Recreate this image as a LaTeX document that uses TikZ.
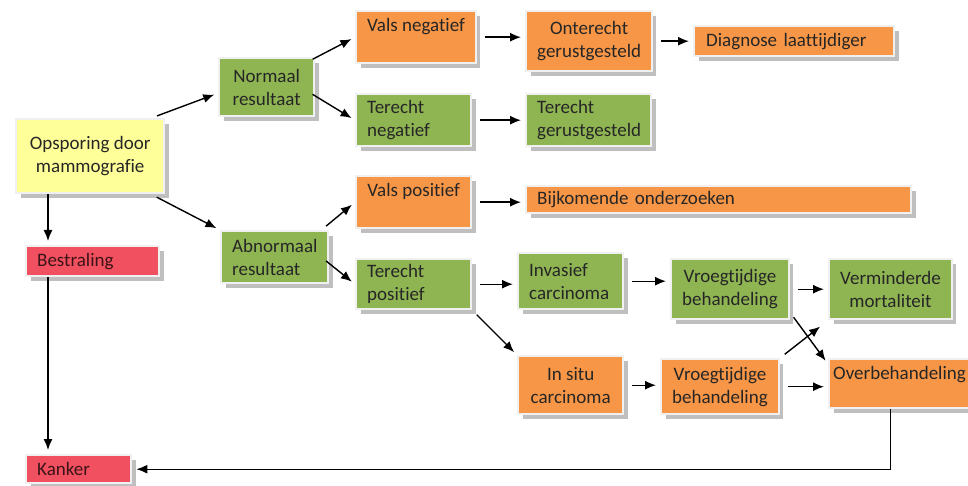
\documentclass[tikz,border=0pt]{standalone}
\usepackage{fontspec}
\setmainfont{Carlito}[Ligatures=CommonOff]
\usetikzlibrary{shadows,arrows.meta}
\definecolor{geel}{HTML}{FFFF99}
\definecolor{groen}{HTML}{8FB553}
\definecolor{oranje}{HTML}{F79646}
\definecolor{rood}{HTML}{F0505F}
\tikzset{
	blok/.style={rectangle, anchor=north west, draw=black!6, line width=1.2pt,
		inner xsep=5.5pt, inner ysep=2pt, font=\fontsize{9.5}{11.5}\selectfont,
		text=black!85,
		drop shadow={shadow xshift=2.2pt, shadow yshift=-2.2pt, fill=black!50, opacity=.5}},
	boven/.style={text height=8pt, text depth=#1},
	pijl/.style={-{Latex[length=5.5pt,width=4.5pt]}, line width=.7pt, shorten <=3pt, shorten >=2pt}
}
\begin{document}
\begin{tikzpicture}[x=0.5pt,y=-0.5pt]
	\useasboundingbox (0,0) rectangle (968,486);
	% linkerkolom
	\node[blok, fill=geel, minimum width=74pt, minimum height=37pt, align=center]
	(opsporing) at (15,118) {Opsporing door\\mammografie};
	\node[blok, fill=rood, text=rood!25!black, minimum width=66.5pt, minimum height=15pt,
	text width=55.5pt, align=left] (bestraling) at (25,245) {Bestraling};
	\node[blok, fill=rood, text=rood!25!black, minimum width=52.5pt, minimum height=14pt,
	text width=41.5pt, align=left] (kanker) at (25,454) {Kanker};
	% resultaten
	\node[blok, fill=groen, minimum width=47.5pt, minimum height=29pt, align=center]
	(normaal) at (218,57) {Normaal\\resultaat};
	\node[blok, fill=groen, minimum width=53.5pt, minimum height=26pt,
	text width=42.5pt, align=left] (abnormaal) at (220,230) {Abnormaal\\resultaat};
	\node[blok, fill=oranje, minimum width=57.5pt, boven=14pt]
	(valsneg) at (355,10) {Vals negatief};
	\node[blok, fill=groen, minimum width=57.5pt, minimum height=26pt,
	text width=46.5pt, align=left] (terechtneg) at (355,93) {Terecht\\negatief};
	\node[blok, fill=oranje, minimum width=57.5pt, boven=14pt]
	(valspos) at (355,175) {Vals positief};
	\node[blok, fill=groen, minimum width=57.5pt, minimum height=25pt,
	text width=46.5pt, align=left] (terechtpos) at (355,258) {Terecht\\positief};
	% gevolgen
	\node[blok, fill=oranje, minimum width=56.5pt, minimum height=30pt, align=center]
	(onterecht) at (525,10) {Onterecht\\gerustgesteld};
	\node[blok, fill=oranje, minimum width=100pt, minimum height=15pt,
	text width=88pt, inner xsep=6pt, align=left] (diagnose) at (693,25) {Diagnose laattijdiger};
	\node[blok, fill=groen, minimum width=62.5pt, minimum height=26pt,
	text width=51.5pt, align=left] (terechtger) at (525,93) {Terecht\\gerustgesteld};
	\node[blok, fill=oranje, minimum width=192.5pt, minimum height=13.5pt,
	text width=181.5pt, align=left] (bijkomend) at (525,185) {Bijkomende onderzoeken};
	\node[blok, fill=groen, minimum width=52.5pt, minimum height=28pt,
	text width=41.5pt, align=left] (invasief) at (517,252) {Invasief\\carcinoma};
	\node[blok, fill=oranje, minimum width=52.5pt, minimum height=29pt, align=center]
	(insitu) at (517,355) {In situ\\carcinoma};
	\node[blok, fill=groen, minimum width=54pt, minimum height=30pt, align=center]
	(vroeggroen) at (670,258) {Vroegtijdige\\behandeling};
	\node[blok, fill=oranje, minimum width=52.5pt, minimum height=27.5pt, align=center]
	(vroegoranje) at (660,358) {Vroegtijdige\\behandeling};
	\node[blok, fill=groen, minimum width=57.5pt, minimum height=30pt, align=center]
	(verminderd) at (828,258) {Verminderde\\mortaliteit};
	\node[blok, fill=oranje, minimum width=68pt, inner xsep=2pt, boven=12.5pt]
	(overbeh) at (828,358) {Overbehandeling};
	% pijlen
	\coordinate (links) at ([xshift=11.5pt]bestraling.north west);
	\draw[pijl] ([xshift=-7pt]opsporing.north east) -- ([yshift=-3pt]normaal.west);
	\draw[pijl] ([xshift=-7pt]opsporing.south east) -- (abnormaal.north west);
	\draw[pijl, shorten <=0pt] (opsporing.south -| links) -- (links);
	\draw[pijl, shorten <=0pt] (bestraling.south -| links) -- (kanker.north -| links);
	\draw[pijl] ([xshift=-4pt,yshift=-2.5pt]normaal.north east) -- (valsneg.west);
	\draw[pijl] ([xshift=-4pt,yshift=-2pt]normaal.east) -- (terechtneg.west);
	\draw[pijl] ([xshift=-4pt]abnormaal.north east) -- (valspos.west);
	\draw[pijl] ([xshift=-4pt]abnormaal.east) -- (terechtpos.west);
	\foreach \van/\naar in {valsneg/onterecht, onterecht/diagnose,
		terechtneg/terechtger, valspos/bijkomend, terechtpos/invasief,
		invasief/vroeggroen, insitu/vroegoranje, vroeggroen/verminderd,
		vroegoranje/overbeh}
	\draw[pijl, shorten <=4pt] (\van.east) -- (\van.east -| \naar.west);
	\draw[pijl] (terechtpos.south east) -- (insitu.north west);
	\draw[pijl] ([yshift=4pt]vroeggroen.south east) -- ([yshift=-3pt]overbeh.north west);
	\draw[pijl, shorten >=5pt] (vroegoranje.north east) -- (verminderd.south west);
	\draw[pijl, shorten <=0pt] ([xshift=-4.5pt]overbeh.south) |- (kanker.east);
\end{tikzpicture}
\end{document}
